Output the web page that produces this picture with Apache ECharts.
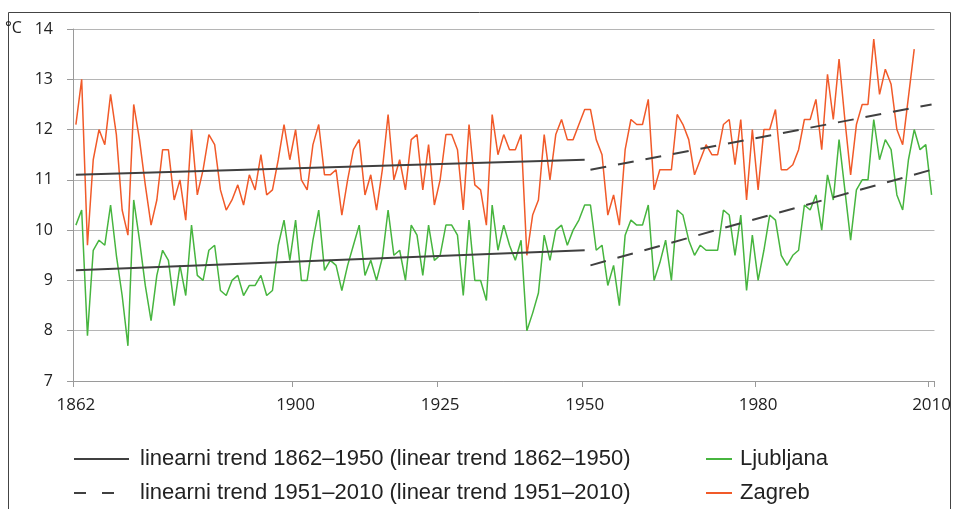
<!DOCTYPE html>
<html><head><meta charset="utf-8">
<script src="https://cdn.jsdelivr.net/npm/echarts@6/dist/echarts.min.js"></script>
<style>html,body{margin:0;padding:0;background:#fff}#c{width:954px;height:509px}</style>
</head><body><div id="c"></div>
<script>
// categories: every year 1862..2010
const years = [];
for (let y = 1862; y <= 2010; y++) years.push(String(y));
const tickYears = ['1862', '1900', '1925', '1950', '1980', '2010'];

// Ljubljana annual mean temperature (°C), 1862..2010
const ljubljana = [
  10.1, 10.4, 7.9, 9.6, 9.8, 9.7, 10.5, 9.5, 8.7, 7.7,
  10.6, 9.8, 8.9, 8.2, 9.1, 9.6, 9.4, 8.5, 9.3, 8.7,
  10.1, 9.1, 9.0, 9.6, 9.7, 8.8, 8.7, 9.0, 9.1, 8.7,
  8.9, 8.9, 9.1, 8.7, 8.8, 9.7, 10.2, 9.4, 10.2, 9.0,
  9.0, 9.8, 10.4, 9.2, 9.4, 9.3, 8.8, 9.3, 9.7, 10.1,
  9.1, 9.4, 9.0, 9.45, 10.4, 9.5, 9.6, 9.0, 10.1, 9.9,
  9.1, 10.1, 9.4, 9.5, 10.1, 10.1, 9.9, 8.7, 10.2, 9.0,
  9.0, 8.6, 10.5, 9.6, 10.1, 9.7, 9.4, 9.8, 8.0, 8.35,
  8.75, 9.9, 9.4, 10.0, 10.1, 9.7, 10.0, 10.2, 10.5, 10.5,
  9.6, 9.7, 8.9, 9.3, 8.5, 9.9, 10.2, 10.1, 10.1, 10.5,
  9.0, 9.35, 9.8, 9.0, 10.4, 10.3, 9.8, 9.5, 9.7, 9.6,
  9.6, 9.6, 10.4, 10.3, 9.5, 10.3, 8.8, 9.9, 9.0, 9.6,
  10.3, 10.2, 9.5, 9.3, 9.5, 9.6, 10.5, 10.4, 10.7, 10.0,
  11.1, 10.6, 11.8, 10.8, 9.8, 10.8, 11.0, 11.0, 12.2, 11.4,
  11.8, 11.6, 10.7, 10.4, 11.4, 12.0, 11.6, 11.7, 10.7
];

// Zagreb annual mean temperature (°C), 1862..2007 (no values 2008..2010)
const zagreb = [
  12.1, 13.0, 9.7, 11.4, 12.0, 11.7, 12.7, 11.9, 10.4, 9.9,
  12.5, 11.8, 10.9, 10.1, 10.6, 11.6, 11.6, 10.6, 11.0, 10.2,
  12.0, 10.7, 11.2, 11.9, 11.7, 10.8, 10.4, 10.6, 10.9, 10.5,
  11.1, 10.8, 11.5, 10.7, 10.8, 11.4, 12.1, 11.4, 12.0, 11.0,
  10.8, 11.7, 12.1, 11.1, 11.1, 11.2, 10.3, 11.0, 11.6, 11.8,
  10.7, 11.1, 10.4, 11.2, 12.3, 11.0, 11.4, 10.8, 11.8, 11.9,
  10.8, 11.7, 10.5, 11.0, 11.9, 11.9, 11.6, 10.4, 12.1, 10.9,
  10.8, 10.1, 12.3, 11.5, 11.9, 11.6, 11.6, 11.9, 9.5, 10.3,
  10.6, 11.9, 11.0, 11.9, 12.2, 11.8, 11.8, 12.1, 12.4, 12.4,
  11.8, 11.5, 10.3, 10.7, 10.1, 11.6, 12.2, 12.1, 12.1, 12.6,
  10.8, 11.2, 11.2, 11.2, 12.3, 12.1, 11.8, 11.1, 11.4, 11.7,
  11.5, 11.5, 12.1, 12.2, 11.3, 12.2, 10.6, 12.0, 10.8, 12.0,
  12.0, 12.4, 11.2, 11.2, 11.3, 11.6, 12.2, 12.2, 12.6, 11.6,
  13.1, 12.2, 13.4, 12.2, 11.1, 12.1, 12.5, 12.5, 13.8, 12.7,
  13.2, 12.9, 12.0, 11.7, 12.65, 13.6, null, null, null
];

// linear trends (start/end years and values)
const trendOldYears = ['1862', '1950'];
const trendNewYears = ['1951', '2010'];
const zagrebTrendOld = [11.1, 11.4];
const ljubljanaTrendOld = [9.2, 9.6];
const zagrebTrendNew = [11.2, 12.5];
const ljubljanaTrendNew = [9.3, 11.2];

const SOLID = 'linearni trend 1862–1950 (linear trend 1862–1950)';
const DASHED = 'linearni trend 1951–2010 (linear trend 1951–2010)';
const pair = (xs, ys) => xs.map((x, i) => [x, ys[i]]);

const chart = echarts.init(document.getElementById('c'));
const isTick = (i, v) => tickYears.indexOf(v) >= 0;
const trendColor = '#404040';
const legendText = { fontFamily: '"Liberation Sans", sans-serif', fontSize: 22, color: '#222', lineHeight: 22, padding: [0, 0, 0, 6] };
const hiddenSymbol = { opacity: 0 };

chart.setOption({
  animation: false,
  backgroundColor: '#fff',
  grid: { left: 73, right: 16, top: 29, bottom: 128, containLabel: false },
  xAxis: {
    type: 'category', data: years, boundaryGap: true,
    axisLine: { lineStyle: { color: '#9a9a9a', width: 1 } },
    axisTick: { show: true, interval: isTick, length: 6, lineStyle: { color: '#9a9a9a' } },
    axisLabel: { interval: isTick, margin: 16, color: '#222', fontFamily: '"Open Sans", sans-serif', fontSize: 17 },
    splitLine: { show: false }
  },
  yAxis: {
    type: 'value', min: 7, max: 14, interval: 1,
    axisLine: { show: true, lineStyle: { color: '#9a9a9a' } },
    axisTick: { show: true, length: 6, lineStyle: { color: '#9a9a9a' } },
    axisLabel: { margin: 20, color: '#222', fontFamily: '"Open Sans", sans-serif', fontSize: 16 },
    splitLine: { lineStyle: { color: '#b5b5b5', width: 1.2 } }
  },
  legend: [
    {
      orient: 'vertical', left: 73, top: 448, padding: 0, itemWidth: 55, itemHeight: 14, itemGap: 12,
      selectedMode: false, textStyle: legendText, itemStyle: hiddenSymbol,
      data: [{ name: SOLID }, { name: DASHED, lineStyle: { type: [12, 16] } }]
    },
    {
      orient: 'vertical', left: 705, top: 448, padding: 0, itemWidth: 26, itemHeight: 14, itemGap: 12,
      selectedMode: false, textStyle: Object.assign({}, legendText, { padding: [0, 0, 0, 3] }), itemStyle: hiddenSymbol,
      data: ['Ljubljana', 'Zagreb']
    }
  ],
  graphic: [
    { type: 'rect', shape: { x: 8.5, y: 12.5, width: 942, height: 520 }, style: { fill: 'none', stroke: '#444', lineWidth: 1 }, silent: true },
    { type: 'text', left: 5, top: 20, style: { text: '°C', fill: '#222', font: '16px "Open Sans", sans-serif' }, silent: true }
  ],
  series: [
    { name: 'Ljubljana', type: 'line', data: ljubljana, symbol: 'none', connectNulls: false,
      lineStyle: { color: '#47b53f', width: 1.5 }, itemStyle: { color: '#47b53f' } },
    { name: 'Zagreb', type: 'line', data: zagreb, symbol: 'none', connectNulls: false,
      lineStyle: { color: '#f15a29', width: 1.5 }, itemStyle: { color: '#f15a29' } },
    { name: SOLID, type: 'line', data: pair(trendOldYears, zagrebTrendOld), symbol: 'none',
      lineStyle: { color: trendColor, width: 2 }, itemStyle: { color: trendColor } },
    { name: SOLID, type: 'line', data: pair(trendOldYears, ljubljanaTrendOld), symbol: 'none',
      lineStyle: { color: trendColor, width: 2 }, itemStyle: { color: trendColor } },
    { name: DASHED, type: 'line', data: pair(trendNewYears, zagrebTrendNew), symbol: 'none',
      lineStyle: { color: trendColor, width: 2, type: [16, 12] }, itemStyle: { color: trendColor } },
    { name: DASHED, type: 'line', data: pair(trendNewYears, ljubljanaTrendNew), symbol: 'none',
      lineStyle: { color: trendColor, width: 2, type: [16, 12] }, itemStyle: { color: trendColor } }
  ]
});
</script>
</body></html>
